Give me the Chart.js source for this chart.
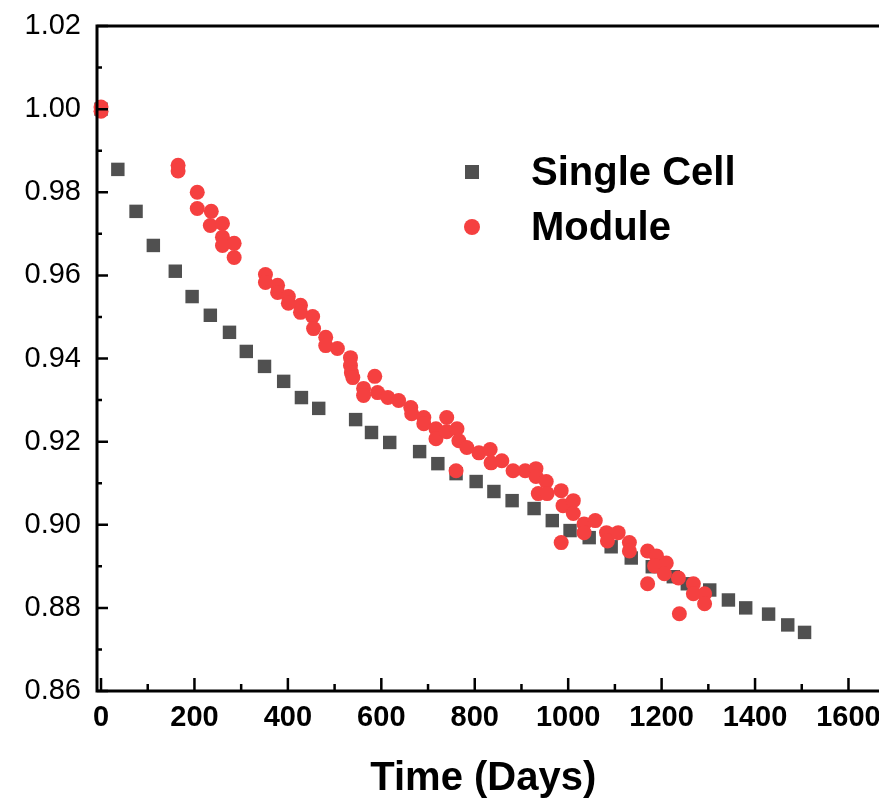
<!DOCTYPE html>
<html>
<head>
<meta charset="utf-8">
<script src="https://cdn.jsdelivr.net/npm/chart.js@4.4.1/dist/chart.umd.min.js"></script>
<style>
html, body { margin: 0; padding: 0; background: #fff; }
canvas { display: block; }
</style>
</head>
<body>
<canvas id="retentionChart" width="879" height="799"></canvas>
<script>
// Single cell: capacity retention vs time
const singleDays = [0, 36, 75, 112, 159, 195, 234, 275, 311, 350, 391, 429, 466, 545, 579, 618, 682, 721, 760, 803, 841, 880, 927, 966, 1004, 1045, 1092, 1135, 1180, 1225, 1255, 1303, 1343, 1380, 1429, 1470, 1506];
const singleRet = [1.000, 0.9855, 0.9754, 0.9672, 0.9610, 0.9549, 0.9504, 0.9463, 0.9417, 0.9381, 0.9345, 0.9306, 0.9280, 0.9253, 0.9222, 0.9198, 0.9176, 0.9147, 0.9123, 0.9104, 0.9080, 0.9058, 0.9039, 0.9010, 0.8986, 0.8969, 0.8947, 0.8920, 0.8899, 0.8875, 0.8858, 0.8843, 0.8819, 0.8800, 0.8785, 0.8759, 0.8741];

// Module
const moduleDays = [0, 0, 165, 165, 206, 206, 236, 234, 260, 260, 260, 285, 285, 352, 352, 378, 378, 401, 401, 427, 427, 453, 455, 481, 481, 506, 534, 534, 536, 539, 562, 562, 586, 592, 614, 637, 663, 665, 691, 691, 717, 717, 740, 740, 760, 762, 766, 783, 809, 833, 835, 858, 882, 908, 931, 931, 936, 953, 955, 985, 985, 989, 1011, 1011, 1034, 1034, 1058, 1082, 1084, 1107, 1131, 1131, 1170, 1170, 1189, 1185, 1210, 1206, 1236, 1238, 1268, 1268, 1292, 1292];
const moduleRet = [1.0005, 0.9995, 0.9865, 0.9851, 0.9800, 0.9761, 0.9754, 0.9720, 0.9725, 0.9692, 0.9672, 0.9677, 0.9643, 0.9602, 0.9583, 0.9576, 0.9559, 0.9549, 0.9533, 0.9528, 0.9511, 0.9501, 0.9472, 0.9451, 0.9431, 0.9424, 0.9402, 0.9383, 0.9366, 0.9354, 0.9328, 0.9311, 0.9357, 0.9318, 0.9306, 0.9299, 0.9282, 0.9267, 0.9258, 0.9243, 0.9231, 0.9207, 0.9258, 0.9224, 0.9130, 0.9231, 0.9202, 0.9186, 0.9173, 0.9181, 0.9149, 0.9154, 0.9130, 0.9130, 0.9135, 0.9116, 0.9075, 0.9104, 0.9075, 0.9082, 0.8957, 0.9046, 0.9058, 0.9027, 0.9002, 0.8981, 0.9010, 0.8981, 0.8961, 0.8981, 0.8957, 0.8937, 0.8937, 0.8858, 0.8925, 0.8901, 0.8908, 0.8882, 0.8872, 0.8786, 0.8858, 0.8834, 0.8834, 0.8810];

// ticks
const xTicks = [0, 200, 400, 600, 800, 1000, 1200, 1400, 1600];
const yTicks = [0.86, 0.88, 0.90, 0.92, 0.94, 0.96, 0.98, 1.00, 1.02];
const yTickLabels = ['0.86', '0.88', '0.90', '0.92', '0.94', '0.96', '0.98', '1.00', '1.02'];

const fontFamily = "'Liberation Sans', Arial, Helvetica, sans-serif";

// axis frame with inward major/minor ticks, plus the in-plot legend
const framePlugin = {
	id: 'frame',
	afterDraw(chart) {
		const { ctx, chartArea: a, scales: { x, y } } = chart;
		const right = chart.width; // frame runs off the right edge of the picture
		ctx.save();
		ctx.strokeStyle = '#000';
		ctx.lineWidth = 2.5;
		ctx.beginPath();
		for (let v = 0; v <= 1600; v += 100) {
			const px = x.getPixelForValue(v);
			const len = v % 200 === 0 ? 13 : 7;
			ctx.moveTo(px, a.bottom);
			ctx.lineTo(px, a.bottom - len);
		}
		for (let i = 0; i <= 16; i++) {
			const py = y.getPixelForValue(0.86 + i * 0.01);
			const len = i % 2 === 0 ? 11 : 5;
			ctx.moveTo(a.left, py);
			ctx.lineTo(a.left + len, py);
		}
		ctx.stroke();

		ctx.lineWidth = 3;
		ctx.beginPath();
		ctx.moveTo(right, a.top);
		ctx.lineTo(a.left, a.top);
		ctx.lineTo(a.left, a.bottom);
		ctx.lineTo(right, a.bottom);
		ctx.stroke();

		// legend
		const ds = chart.data.datasets;
		ctx.fillStyle = ds[0].backgroundColor;
		ctx.fillRect(465, 165, 14, 14);
		ctx.fillStyle = ds[1].backgroundColor;
		ctx.beginPath();
		ctx.arc(472, 227, 8, 0, Math.PI * 2);
		ctx.fill();
		ctx.fillStyle = '#000';
		ctx.font = 'bold 40px ' + fontFamily;
		ctx.textBaseline = 'alphabetic';
		ctx.fillText(ds[0].label, 531, 185);
		ctx.fillText(ds[1].label, 531, 240);
		ctx.restore();
	}
};

const ctx = document.getElementById('retentionChart').getContext('2d');
new Chart(ctx, {
	type: 'scatter',
	data: {
		datasets: [{
			label: 'Single Cell',
			data: singleDays.map((d, i) => ({ x: d, y: singleRet[i] })),
			backgroundColor: 'rgb(80, 80, 80)',
			borderWidth: 0,
			pointStyle: 'rect',
			pointRadius: 9.5,
			order: 2,
			clip: false
		}, {
			label: 'Module',
			data: moduleDays.map((d, i) => ({ x: d, y: moduleRet[i] })),
			backgroundColor: 'rgb(245, 64, 64)',
			borderWidth: 0,
			pointStyle: 'circle',
			pointRadius: 7.5,
			order: 1,
			clip: false
		}]
	},
	options: {
		responsive: false,
		animation: false,
		layout: {
			padding: { top: 26, right: 0, bottom: 0, left: 0 }
		},
		plugins: {
			legend: { display: false },
			tooltip: { enabled: false }
		},
		scales: {
			x: {
				type: 'linear',
				min: -8.6,
				max: 1645,
				afterFit: s => { s.height = 108; s.paddingLeft = 0; s.paddingRight = 0; },
				afterBuildTicks: s => { s.ticks = xTicks.map(v => ({ value: v })); },
				grid: { display: false, drawTicks: false },
				border: { display: false },
				ticks: {
					padding: 10,
					color: '#000',
					font: { family: fontFamily, size: 29, weight: 'bold' },
					callback: (v, i) => String(xTicks[i])
				},
				title: {
					display: true,
					text: 'Time (Days)',
					color: '#000',
					font: { family: fontFamily, size: 40, weight: 'bold' },
					padding: { top: 0, bottom: -4 }
				}
			},
			y: {
				type: 'linear',
				min: 0.86,
				max: 1.02,
				afterFit: s => { s.width = 97; s.paddingTop = 0; s.paddingBottom = 0; },
				afterBuildTicks: s => { s.ticks = yTicks.map(v => ({ value: v })); },
				grid: { display: false, drawTicks: false },
				border: { display: false },
				ticks: {
					padding: 16,
					color: '#000',
					font: { family: fontFamily, size: 29 },
					callback: (v, i) => yTickLabels[i]
				}
			}
		}
	},
	plugins: [framePlugin]
});
</script>
</body>
</html>
